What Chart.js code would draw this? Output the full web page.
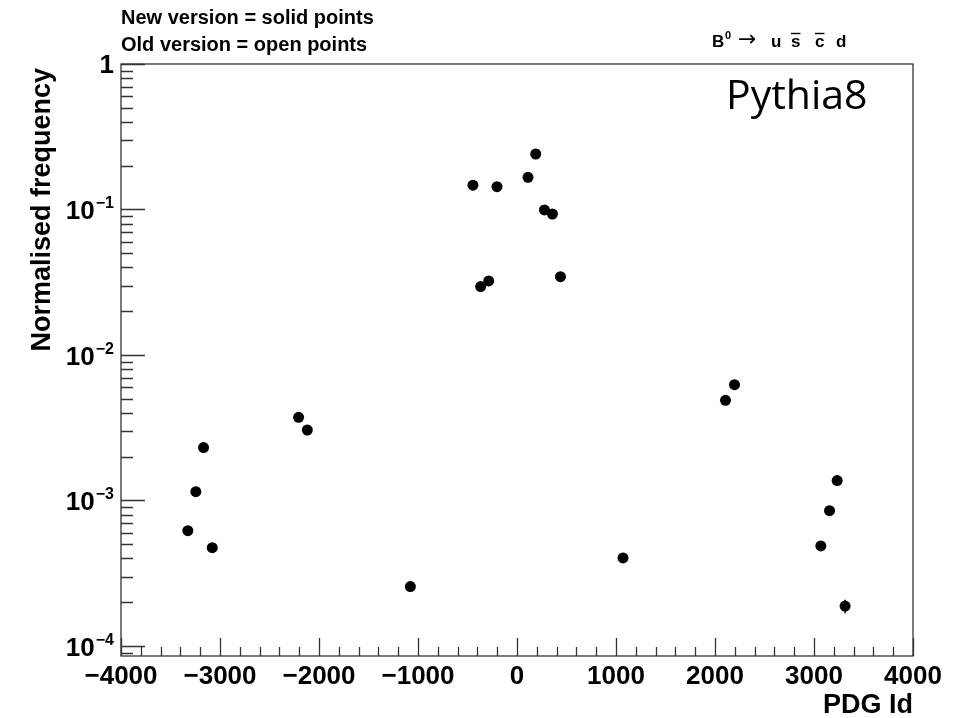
<!DOCTYPE html>
<html>
<head>
<meta charset="utf-8">
<title>PDG Id frequency</title>
<script src="https://cdn.jsdelivr.net/npm/chart.js@4"></script>
<style>
  html,body{margin:0;padding:0;background:#fff;}
  #wrap{width:955px;height:718px;}
</style>
</head>
<body>
<div id="wrap"><canvas id="pdgChart" width="955" height="718"></canvas></div>
<script>
// PDG ids of the produced particles and their normalised frequency (new version)
const pdgId = [-3325, -3244, -3166, -3078, -2206, -2118, -1077,
  -445, -367, -286, -202, 111, 189, 277, 358, 439,
  1071, 2106, 2197, 3069, 3157, 3234, 3314];
const freqNew = [6.2e-4, 1.15e-3, 2.31e-3, 4.74e-4, 3.73e-3, 3.05e-3, 2.56e-4,
  0.147, 0.0295, 0.0323, 0.1435, 0.1665, 0.2407, 0.0993, 0.0931, 0.0345,
  4.03e-4, 4.88e-3, 6.25e-3, 4.87e-4, 8.51e-4, 1.37e-3, 1.88e-4];
const errNew = [0.1e-4, 0.15e-4, 0.2e-4, 0.1e-4, 0.25e-4, 0.2e-4, 0.1e-4,
  0.0006, 0.0003, 0.0003, 0.0006, 0.0006, 0.0008, 0.0005, 0.0005, 0.0003,
  0.1e-4, 0.3e-4, 0.3e-4, 0.1e-4, 0.15e-4, 0.2e-4, 0.2e-4];

// axis ranges and labels
const xMin = -4000, xMax = 4000;
const yMin = 8.53e-5, yMax = 1;
const xTickValues = [-4000, -3000, -2000, -1000, 0, 1000, 2000, 3000, 4000];
const yDecades = [0, -1, -2, -3, -4];

const FONT = '"Liberation Sans", Arial, Helvetica, sans-serif';

// ROOT-like frame, inward ticks, labels and text
const rootFrame = {
  id: 'rootFrame',
  beforeDatasetsDraw(chart){
    // vertical error bars
    const {ctx, scales:{x, y}} = chart;
    ctx.save();
    ctx.strokeStyle = '#000';
    ctx.lineWidth = 1.5;
    pdgId.forEach((id, i)=>{
      const px = x.getPixelForValue(id);
      const lo = y.getPixelForValue(freqNew[i] - errNew[i]);
      const hi = y.getPixelForValue(freqNew[i] + errNew[i]);
      ctx.beginPath();
      ctx.moveTo(px, lo);
      ctx.lineTo(px, hi);
      ctx.stroke();
    });
    ctx.restore();
  },
  afterDraw(chart){
    const {ctx, chartArea:a, scales:{x, y}} = chart;
    ctx.save();
    ctx.strokeStyle = '#333';
    ctx.lineWidth = 1.3;
    ctx.strokeRect(a.left, a.top, a.right - a.left, a.bottom - a.top);

    // x ticks: minor every 200, major every 1000
    ctx.beginPath();
    for(let v = xMin; v <= xMax; v += 200){
      const px = Math.round(x.getPixelForValue(v)) + 0.5;
      const len = (v % 1000 === 0) ? 18 : 9;
      ctx.moveTo(px, a.bottom);
      ctx.lineTo(px, a.bottom - len);
    }
    // y ticks: 1..9 x 10^k
    for(let k = -5; k <= 0; k++){
      for(let m = 1; m <= 9; m++){
        const v = m * Math.pow(10, k);
        if(v < yMin || v > yMax) continue;
        const py = Math.round(y.getPixelForValue(v)) + 0.5;
        const len = (m === 1) ? 24 : 12;
        ctx.moveTo(a.left, py);
        ctx.lineTo(a.left + len, py);
      }
    }
    ctx.stroke();

    // x tick labels
    ctx.fillStyle = '#000';
    ctx.font = 'bold 26px ' + FONT;
    ctx.textAlign = 'center';
    ctx.textBaseline = 'alphabetic';
    xTickValues.forEach(v=>{
      const s = v < 0 ? '\u2212' + Math.abs(v) : String(v);
      ctx.fillText(s, x.getPixelForValue(v), 684);
    });

    // y tick labels (10 with superscript exponent)
    yDecades.forEach(e=>{
      const py = y.getPixelForValue(Math.pow(10, e));
      const right = 114;
      ctx.textAlign = 'right';
      if(e === 0){
        ctx.font = 'bold 26px ' + FONT;
        ctx.fillText('1', right, py + 9);
        return;
      }
      const sup = '\u2212' + Math.abs(e);
      ctx.font = 'bold 16px ' + FONT;
      const wSup = ctx.measureText(sup).width;
      ctx.fillText(sup, right, py - 1);
      ctx.font = 'bold 26px ' + FONT;
      ctx.fillText('10', right - wSup - 1, py + 10);
    });

    // axis titles
    ctx.font = 'bold 27px ' + FONT;
    ctx.textAlign = 'right';
    ctx.fillText('PDG Id', a.right, 713);
    ctx.save();
    ctx.translate(50, a.top + 4);
    ctx.rotate(-Math.PI / 2);
    ctx.textAlign = 'right';
    ctx.fillText('Normalised frequency', 0, 0);
    ctx.restore();

    // legend text at the top left
    ctx.font = 'bold 20px ' + FONT;
    ctx.textAlign = 'left';
    ctx.fillText('New version = solid points', 121, 24);
    ctx.fillText('Old version = open points', 121, 51);

    // decay label: B0 -> u sbar cbar d
    const base = 47;
    ctx.font = 'bold 17px ' + FONT;
    ctx.fillText('B', 712, base);
    ctx.font = 'bold 11px ' + FONT;
    ctx.fillText('0', 725, base - 8);
    ctx.font = '22px "DejaVu Sans", sans-serif';
    ctx.fillText('\u2192', 738, base - 1);
    ctx.font = 'bold 17px ' + FONT;
    const parts = [['u', 771, false], ['s', 791, true], ['c', 815, true], ['d', 836, false]];
    ctx.lineWidth = 1.4;
    ctx.strokeStyle = '#000';
    parts.forEach(([ch, px, bar])=>{
      ctx.fillText(ch, px, base);
      if(bar){
        const w = ctx.measureText(ch).width;
        ctx.beginPath();
        ctx.moveTo(px, base - 13.5);
        ctx.lineTo(px + w, base - 13.5);
        ctx.stroke();
      }
    });

    // generator name
    ctx.font = '41px "Open Sans", sans-serif';
    ctx.fillText('Pythia8', 726, 109);
    ctx.restore();
  }
};

new Chart(document.getElementById('pdgChart'), {
  type: 'scatter',
  data: {
    datasets: [{
      label: 'New version',
      data: pdgId.map((id, i)=>({x: id, y: freqNew[i]})),
      backgroundColor: '#000',
      borderColor: '#000',
      pointRadius: 5.5,
      pointBorderWidth: 0,
      showLine: false
    }]
  },
  options: {
    responsive: false,
    animation: false,
    devicePixelRatio: 1,
    layout: {padding: {left: 121, right: 42, top: 64, bottom: 62}},
    plugins: {legend: {display: false}, tooltip: {enabled: false}},
    scales: {
      x: {type: 'linear', min: xMin, max: xMax, display: false},
      y: {type: 'logarithmic', min: yMin, max: yMax, display: false}
    }
  },
  plugins: [rootFrame]
});
</script>
</body>
</html>
